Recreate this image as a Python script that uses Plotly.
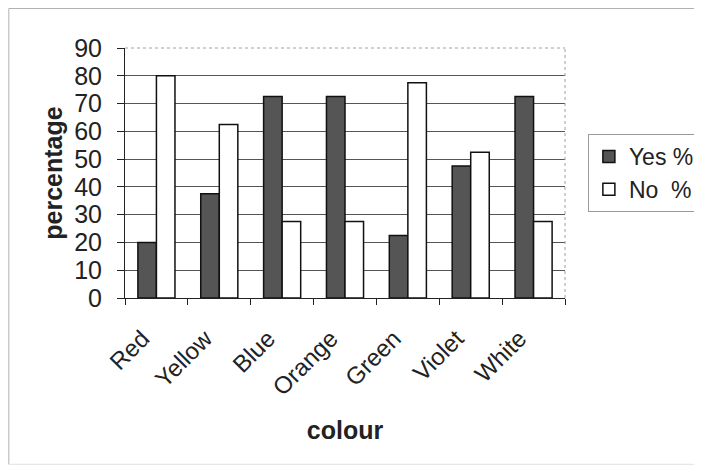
import plotly.graph_objects as go

categories = ["Red", "Yellow", "Blue", "Orange", "Green", "Violet", "White"]
yes_pct = [20, 37.5, 72.5, 72.5, 22.5, 47.5, 72.5]
no_pct = [80, 62.5, 27.5, 27.5, 77.5, 52.5, 27.5]
y_ticks = [0, 10, 20, 30, 40, 50, 60, 70, 80, 90]

FONT = "Liberation Sans, Arial, sans-serif"

fig = go.Figure()
fig.add_trace(go.Bar(
    x=categories, y=yes_pct, name="Yes %",
    marker=dict(color="#555555", line=dict(color="#111111", width=1.5)),
))
fig.add_trace(go.Bar(
    x=categories, y=no_pct, name="No\u00a0\u00a0%",
    marker=dict(color="#ffffff", line=dict(color="#111111", width=1.5)),
))

fig.update_layout(
    width=694, height=461,
    margin=dict(l=117, r=137, t=40, b=171, autoexpand=False),
    paper_bgcolor="white", plot_bgcolor="white",
    font=dict(family=FONT, color="#222222"),
    barmode="group", bargap=0.41, bargroupgap=0.0,
    showlegend=True,
    legend=dict(
        x=1.052, xanchor="left", y=0.656, yanchor="top",
        bordercolor="#9a9a9a", borderwidth=1,
        font=dict(size=23, family=FONT, color="#222222"),
        tracegroupgap=0,
    ),
    xaxis=dict(
        type="category",
        tickangle=-45,
        tickfont=dict(size=24, family=FONT, color="#222222"),
        showline=True, linecolor="#222222", linewidth=1,
        ticks="outside", tickson="boundaries", ticklen=6, tickcolor="#222222",
        ticklabelstandoff=16, ticklabelshift=-14,
        showgrid=False,
        title=dict(text="<b>colour</b>", font=dict(size=25, family=FONT, color="#222222"), standoff=22),
        automargin=False,
    ),
    yaxis=dict(
        range=[0, 90], tickvals=y_ticks,
        tickfont=dict(size=25, family=FONT, color="#222222"),
        showline=True, linecolor="#222222", linewidth=1,
        ticks="outside", ticklen=7, tickcolor="#222222",
        ticklabelstandoff=10,
        showgrid=True, gridcolor="#555555", gridwidth=1,
        zeroline=False,
        title=dict(text="<b>percentage</b>", font=dict(size=25, family=FONT, color="#222222"), standoff=4),
        automargin=False,
    ),
)

# plot-area border (top and right) light dotted gray
fig.add_shape(type="line", xref="paper", yref="paper", x0=0, x1=1, y0=1, y1=1,
              line=dict(color="white", width=2), layer="above")
fig.add_shape(type="line", xref="paper", yref="paper", x0=0, x1=1, y0=1, y1=1,
              line=dict(color="#a0a0a0", width=1, dash="dot"), layer="above")
fig.add_shape(type="line", xref="paper", yref="paper", x0=1, x1=1, y0=0, y1=1,
              line=dict(color="#a0a0a0", width=1, dash="dot"), layer="above")
# outer chart frame
fig.add_shape(type="line", xref="paper", yref="paper", x0=-0.264, x1=1.31, y0=1.158, y1=1.158,
              line=dict(color="#b0b0b0", width=1), layer="above")
fig.add_shape(type="line", xref="paper", yref="paper", x0=-0.264, x1=-0.264, y0=-0.665, y1=1.158,
              line=dict(color="#b0b0b0", width=1), layer="above")
fig.add_shape(type="line", xref="paper", yref="paper", x0=-0.264, x1=1.31, y0=-0.665, y1=-0.665,
              line=dict(color="#e0e0e0", width=1), layer="above")

fig.write_html("out.html")
